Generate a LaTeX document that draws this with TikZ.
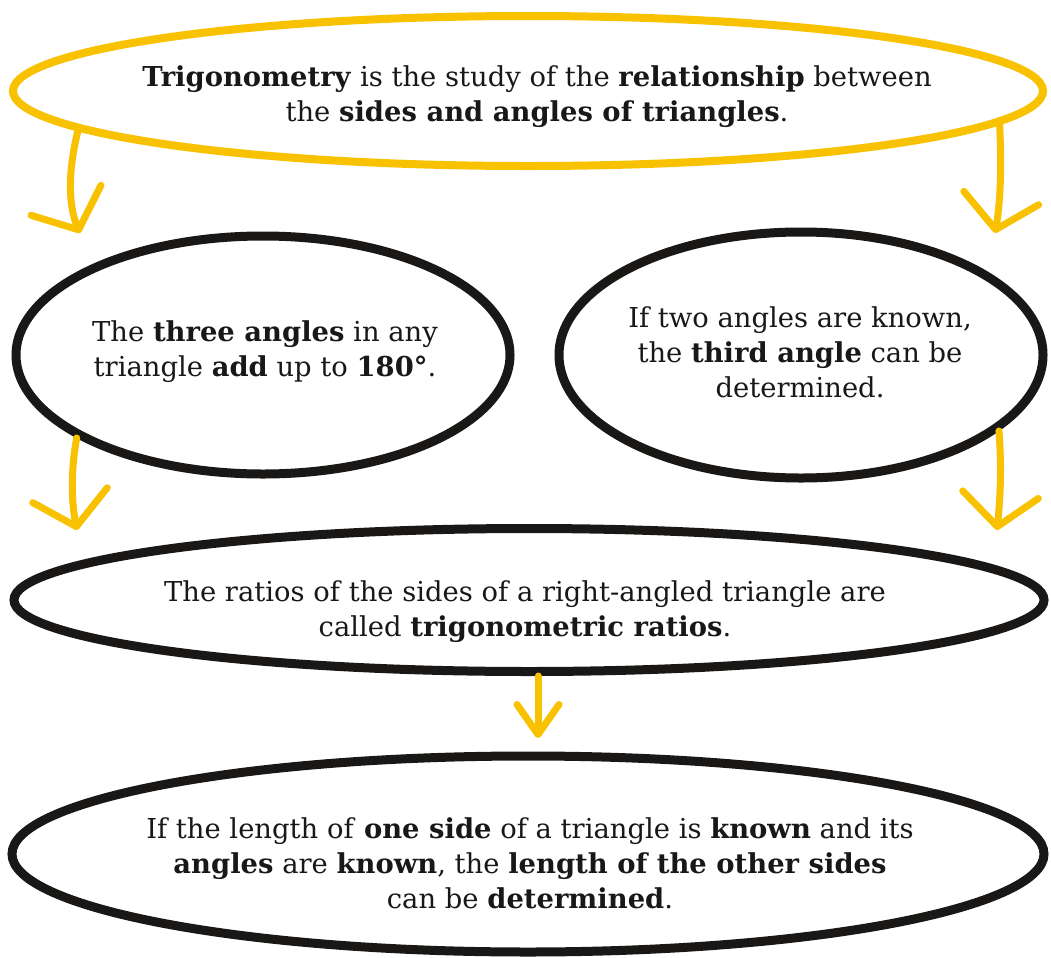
\documentclass[tikz,border=0pt]{standalone}
\usepackage{fontspec}
\setmainfont{DejaVu Serif}
\usetikzlibrary{shapes.geometric,arrows.meta}
\definecolor{ylw}{RGB}{248,194,0}
\definecolor{ink}{RGB}{26,24,22}
\begin{document}
\begin{tikzpicture}[x=1bp,y=-1bp,
  bubble/.style={ellipse, draw=ink, line width=9bp, inner sep=0pt},
  ybubble/.style={bubble, draw=ylw, line width=8bp},
  txt/.style={align=center, text=ink, font=\fontsize{27.5}{35}\selectfont},
  flow/.style={draw=ylw, line width=7bp, line cap=round, line join=round,
    -{Straight Barb[length=32bp,width=76bp,round]}},
  sflow/.style={flow, -{Straight Barb[length=30bp,width=42bp,round]}},
]
\fill[white] (0,0) rectangle (1051,958);
\path[use as bounding box] (0,0) rectangle (1051,958);

\node[ybubble, minimum width=1030bp, minimum height=150bp] (top) at (528,91) {};
\node[bubble, minimum width=494bp, minimum height=238bp] (left) at (263,355) {};
\node[bubble, minimum width=484bp, minimum height=246bp] (right) at (801,355) {};
\node[bubble, minimum width=1030bp, minimum height=143bp] (mid) at (529,600) {};
\node[bubble, minimum width=1032bp, minimum height=196bp] (bot) at (528,854) {};

\node[txt] (ttop) at (537,97) {\textbf{Trigonometry} is the study of the \textbf{relationship} between\\the \textbf{sides and angles of triangles}.};
\node[txt] (tleft) at (265,352) {The \textbf{three angles} in any\\triangle \textbf{add} up to \textbf{180°}.};
\node[txt] (tright) at (800,352) {If two angles are known,\\the \textbf{third angle} can be\\determined.};
\node[txt] (tmid) at (525,612) {The ratios of the sides of a right-angled triangle are\\called \textbf{trigonometric ratios}.};
\node[txt] (tbot) at (530,863) {If the length of \textbf{one side} of a triangle is \textbf{known} and its\\\textbf{angles} are \textbf{known}, the \textbf{length of the other sides}\\can be \textbf{determined}.};

\coordinate (h1) at (80,233);
\coordinate (h2) at (995,233);
\coordinate (h3) at (77,530);
\coordinate (h4) at (997,530);
\coordinate (h5) at (538,738);

\draw[flow] (top.185.25) .. controls (68,170) and (68,205) .. (h1);
\draw[flow] (top.356) .. controls (1002,170) and (1000,205) .. (h2);
\draw[flow] (left.204) .. controls (70,475) and (72,505) .. (h3);
\draw[flow] (right.339) .. controls (1002,470) and (1000,500) .. (h4);
\draw[sflow] (mid.south -| h5) -- (h5);
\end{tikzpicture}
\end{document}
